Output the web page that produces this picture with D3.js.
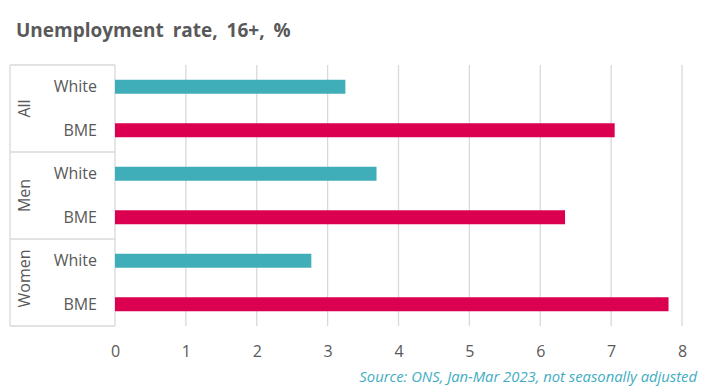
<!DOCTYPE html>
<html>
<head>
<meta charset="utf-8">
<script src="https://cdn.jsdelivr.net/npm/d3@7"></script>
<style>
  body { margin: 0; background: #fff; }
  svg text { font-family: "Open Sans", "Noto Sans", sans-serif; }
</style>
</head>
<body>
<svg id="chart" width="709" height="390" viewBox="0 0 709 390"></svg>
<script>
// data
const groups = ["All", "Men", "Women"];
const ethnicities = ["White", "BME"];
const rates = [
    [3.25, 7.05],   // All
    [3.69, 6.35],   // Men
    [2.77, 7.81]    // Women
];
const xTicks = [0, 1, 2, 3, 4, 5, 6, 7, 8];
const colors = { White: "#40aeb9", BME: "#dc0050" };

const svg = d3.select("#chart");
const textColor = "#595959";
const gridColor = "#d9d9d9";

const plotLeft = 115, plotRight = 682, plotTop = 65, plotBottom = 326;

// flatten into rows
const rows = [];
groups.forEach((g, gi) => {
    ethnicities.forEach((e, ei) => {
        rows.push({ group: g, eth: e, value: rates[gi][ei], key: g + "-" + e });
    });
});

const x = d3.scaleLinear().domain([0, 8]).range([plotLeft, plotRight]);
const y = d3.scaleBand().domain(rows.map(d => d.key)).range([plotTop, plotBottom]);
const groupBand = d3.scaleBand().domain(groups).range([plotTop, plotBottom]);

// title
svg.append("text")
    .attr("x", 16).attr("y", 37)
    .attr("fill", textColor)
    .attr("font-size", 19)
    .attr("font-weight", "bold")
    .style("word-spacing", "4px")
    .text("Unemployment rate, 16+, %");

// gridlines
svg.append("g").selectAll("line")
    .data(xTicks)
    .enter().append("line")
    .attr("x1", d => x(d)).attr("x2", d => x(d))
    .attr("y1", plotTop).attr("y2", plotBottom)
    .attr("stroke", gridColor).attr("stroke-width", 1.3);

// group box on the left
const box = svg.append("g").attr("stroke", gridColor).attr("stroke-width", 1.3);
box.append("line").attr("x1", 10).attr("x2", 10).attr("y1", plotTop).attr("y2", plotBottom);
box.selectAll(".sep")
    .data(groups)
    .enter().append("line")
    .attr("x1", 10).attr("x2", plotLeft)
    .attr("y1", d => groupBand(d)).attr("y2", d => groupBand(d));
box.append("line").attr("x1", 10).attr("x2", plotLeft).attr("y1", plotBottom).attr("y2", plotBottom);

// bars
const barH = 14;
svg.append("g").selectAll("rect")
    .data(rows)
    .enter().append("rect")
    .attr("x", x(0))
    .attr("y", d => y(d.key) + y.bandwidth() / 2 - barH / 2)
    .attr("width", d => x(d.value) - x(0))
    .attr("height", barH)
    .attr("fill", d => colors[d.eth]);

// category labels
svg.append("g").selectAll("text")
    .data(rows)
    .enter().append("text")
    .attr("x", 97)
    .attr("y", d => y(d.key) + y.bandwidth() / 2)
    .attr("dy", "0.35em")
    .attr("text-anchor", "end")
    .attr("font-size", 16)
    .attr("fill", textColor)
    .text(d => d.eth);

// group labels, rotated (Women sits a little higher in the original)
const groupShift = { All: 0, Men: 0, Women: -4 };
svg.append("g").selectAll("text")
    .data(groups)
    .enter().append("text")
    .attr("transform", d => `translate(30,${groupBand(d) + groupBand.bandwidth() / 2 + groupShift[d]}) rotate(-90)`)
    .attr("text-anchor", "middle")
    .attr("font-size", 16)
    .attr("fill", textColor)
    .text(d => d);

// x axis labels
const xAxis = svg.append("g")
    .attr("transform", `translate(0,${plotBottom})`)
    .call(d3.axisBottom(x).tickValues(xTicks).tickSize(0).tickPadding(20));
xAxis.select(".domain").remove();
xAxis.selectAll("text")
    .attr("font-size", 16)
    .attr("font-family", "\"Open Sans\", sans-serif")
    .attr("fill", textColor);

// source note
svg.append("text")
    .attr("x", 697).attr("y", 382)
    .attr("text-anchor", "end")
    .attr("font-size", 14.8)
    .attr("font-style", "italic")
    .attr("fill", "#3fadbf")
    .text("Source: ONS, Jan-Mar 2023, not seasonally adjusted");
</script>
</body>
</html>
